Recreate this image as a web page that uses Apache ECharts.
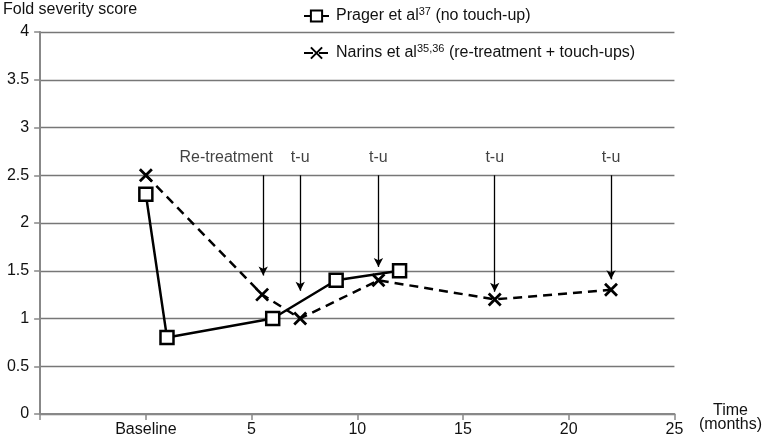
<!DOCTYPE html>
<html><head><meta charset="utf-8">
<script src="https://cdn.jsdelivr.net/npm/echarts@6/dist/echarts.min.js"></script>
<style>html,body{margin:0;padding:0;background:#fff}#c{width:765px;height:441px}</style>
</head><body><div id="c"></div>
<script>
// Data
const xTicks = [-5, 0, 5, 10, 15, 20, 25];
const xTickLabels = ['', 'Baseline', '5', '10', '15', '20', '25'];
const pragerX = [0, 1, 6, 9, 12];
const pragerY = [2.3, 0.8, 1.0, 1.4, 1.5];
const narinsX = [0, 5.5, 7.3, 11, 16.5, 22];
const narinsY = [2.5, 1.25, 1.0, 1.4, 1.2, 1.3];
const arrowX = [5.55, 7.3, 11.0, 16.5, 22];
const arrowTop = [2.5, 2.5, 2.5, 2.5, 2.5];
const arrowTip = [1.45, 1.29, 1.54, 1.28, 1.41];
const arrowLabels = ['Re-treatment', 't-u', 't-u', 't-u', 't-u'];
const arrowLabelX = [3.8, 7.3, 11.0, 16.5, 22];
const arrowLabelY = [2.68, 2.68, 2.68, 2.68, 2.68];

const FONT = '"Liberation Sans", Arial, sans-serif';
const TXT = '#111';
const chart = echarts.init(document.getElementById('c'));
const xLabelMap = {};
xTicks.forEach((t, i) => xLabelMap[t] = xTickLabels[i]);

chart.setOption({
  animation: false,
  backgroundColor: '#fff',
  textStyle: { fontFamily: FONT },
  grid: { left: 38, right: 87, top: 32, bottom: 27 },
  legend: {
    orient: 'vertical',
    left: 298,
    top: 1,
    itemWidth: 25,
    itemHeight: 14,
    itemGap: 17,
    data: ['Prager', 'Narins'],
    formatter: function (name) {
      if (name === 'Prager') return 'Prager et al{sup|37} (no touch-up)';
      return 'Narins et al{sup|35,36} (re-treatment + touch-ups)';
    },
    textStyle: {
      fontFamily: FONT, fontSize: 16, color: TXT, lineHeight: 20, padding: [0, 0, 0, 2],
      rich: { sup: { fontFamily: FONT, fontSize: 11, color: TXT, verticalAlign: 'top', lineHeight: 12 } }
    }
  },
  xAxis: {
    type: 'value', min: -5, max: 25, interval: 5,
    name: '{s| }\n{t|Time}\n{t|(months)}', nameLocation: 'end', nameGap: 56,
    nameTextStyle: {
      fontFamily: FONT, fontSize: 16, color: TXT, align: 'center', verticalAlign: 'middle',
      rich: {
        s: { fontSize: 1, lineHeight: 8 },
        t: { fontFamily: FONT, fontSize: 16, color: TXT, lineHeight: 14, align: 'center' }
      }
    },
    axisLine: { lineStyle: { color: '#888', width: 2 } },
    axisTick: { show: true, length: 6, lineStyle: { color: '#888', width: 1.5 } },
    axisLabel: { fontFamily: FONT, fontSize: 16, color: TXT, margin: 8, formatter: v => (v in xLabelMap ? xLabelMap[v] : v) },
    splitLine: { show: false }
  },
  yAxis: {
    type: 'value', min: 0, max: 4, interval: 0.5,
    name: 'Fold severity score', nameLocation: 'end', nameGap: 14,
    nameTextStyle: { fontFamily: FONT, fontSize: 16, color: TXT, align: 'center', padding: [0, 0, 0, 60] },
    axisLine: { show: true, onZero: false, lineStyle: { color: '#888', width: 2 } },
    axisTick: { show: true, length: 6, lineStyle: { color: '#888', width: 1.5 } },
    axisLabel: { fontFamily: FONT, fontSize: 16, color: TXT, margin: 11 },
    splitLine: { show: true, lineStyle: { color: '#777', width: 1.3 } }
  },
  series: [
    {
      name: 'Prager', type: 'line',
      data: pragerX.map((x, i) => [x, pragerY[i]]),
      symbol: 'rect', symbolSize: 13,
      lineStyle: { color: '#000', width: 2.5 },
      itemStyle: { color: '#fff', borderColor: '#000', borderWidth: 2.5 },
      z: 5
    },
    {
      name: 'Narins', type: 'line',
      data: narinsX.map((x, i) => [x, narinsY[i]]),
      symbol: 'path://M0,0L10,10M10,0L0,10', symbolSize: 12,
      lineStyle: { color: '#000', width: 2.5, type: [9, 6] },
      itemStyle: { color: '#000', borderColor: '#000', borderWidth: 2.8 },
      z: 4,
      markLine: {
        silent: true, symbol: ['none', 'arrow'], symbolSize: [7, 9],
        label: { show: false },
        lineStyle: { color: '#000', width: 1.3, type: 'solid' },
        data: arrowX.map((x, i) => [{ coord: [x, arrowTop[i]] }, { coord: [x, arrowTip[i]] }])
      }
    },
    {
      name: 'labels', type: 'scatter', symbolSize: 0,
      data: arrowLabelX.map((x, i) => ({ value: [x, arrowLabelY[i]], name: arrowLabels[i] })),
      label: { show: true, position: 'inside', formatter: p => p.name, fontFamily: FONT, fontSize: 16, color: TXT },
      silent: true
    }
  ]
});
</script></body></html>
